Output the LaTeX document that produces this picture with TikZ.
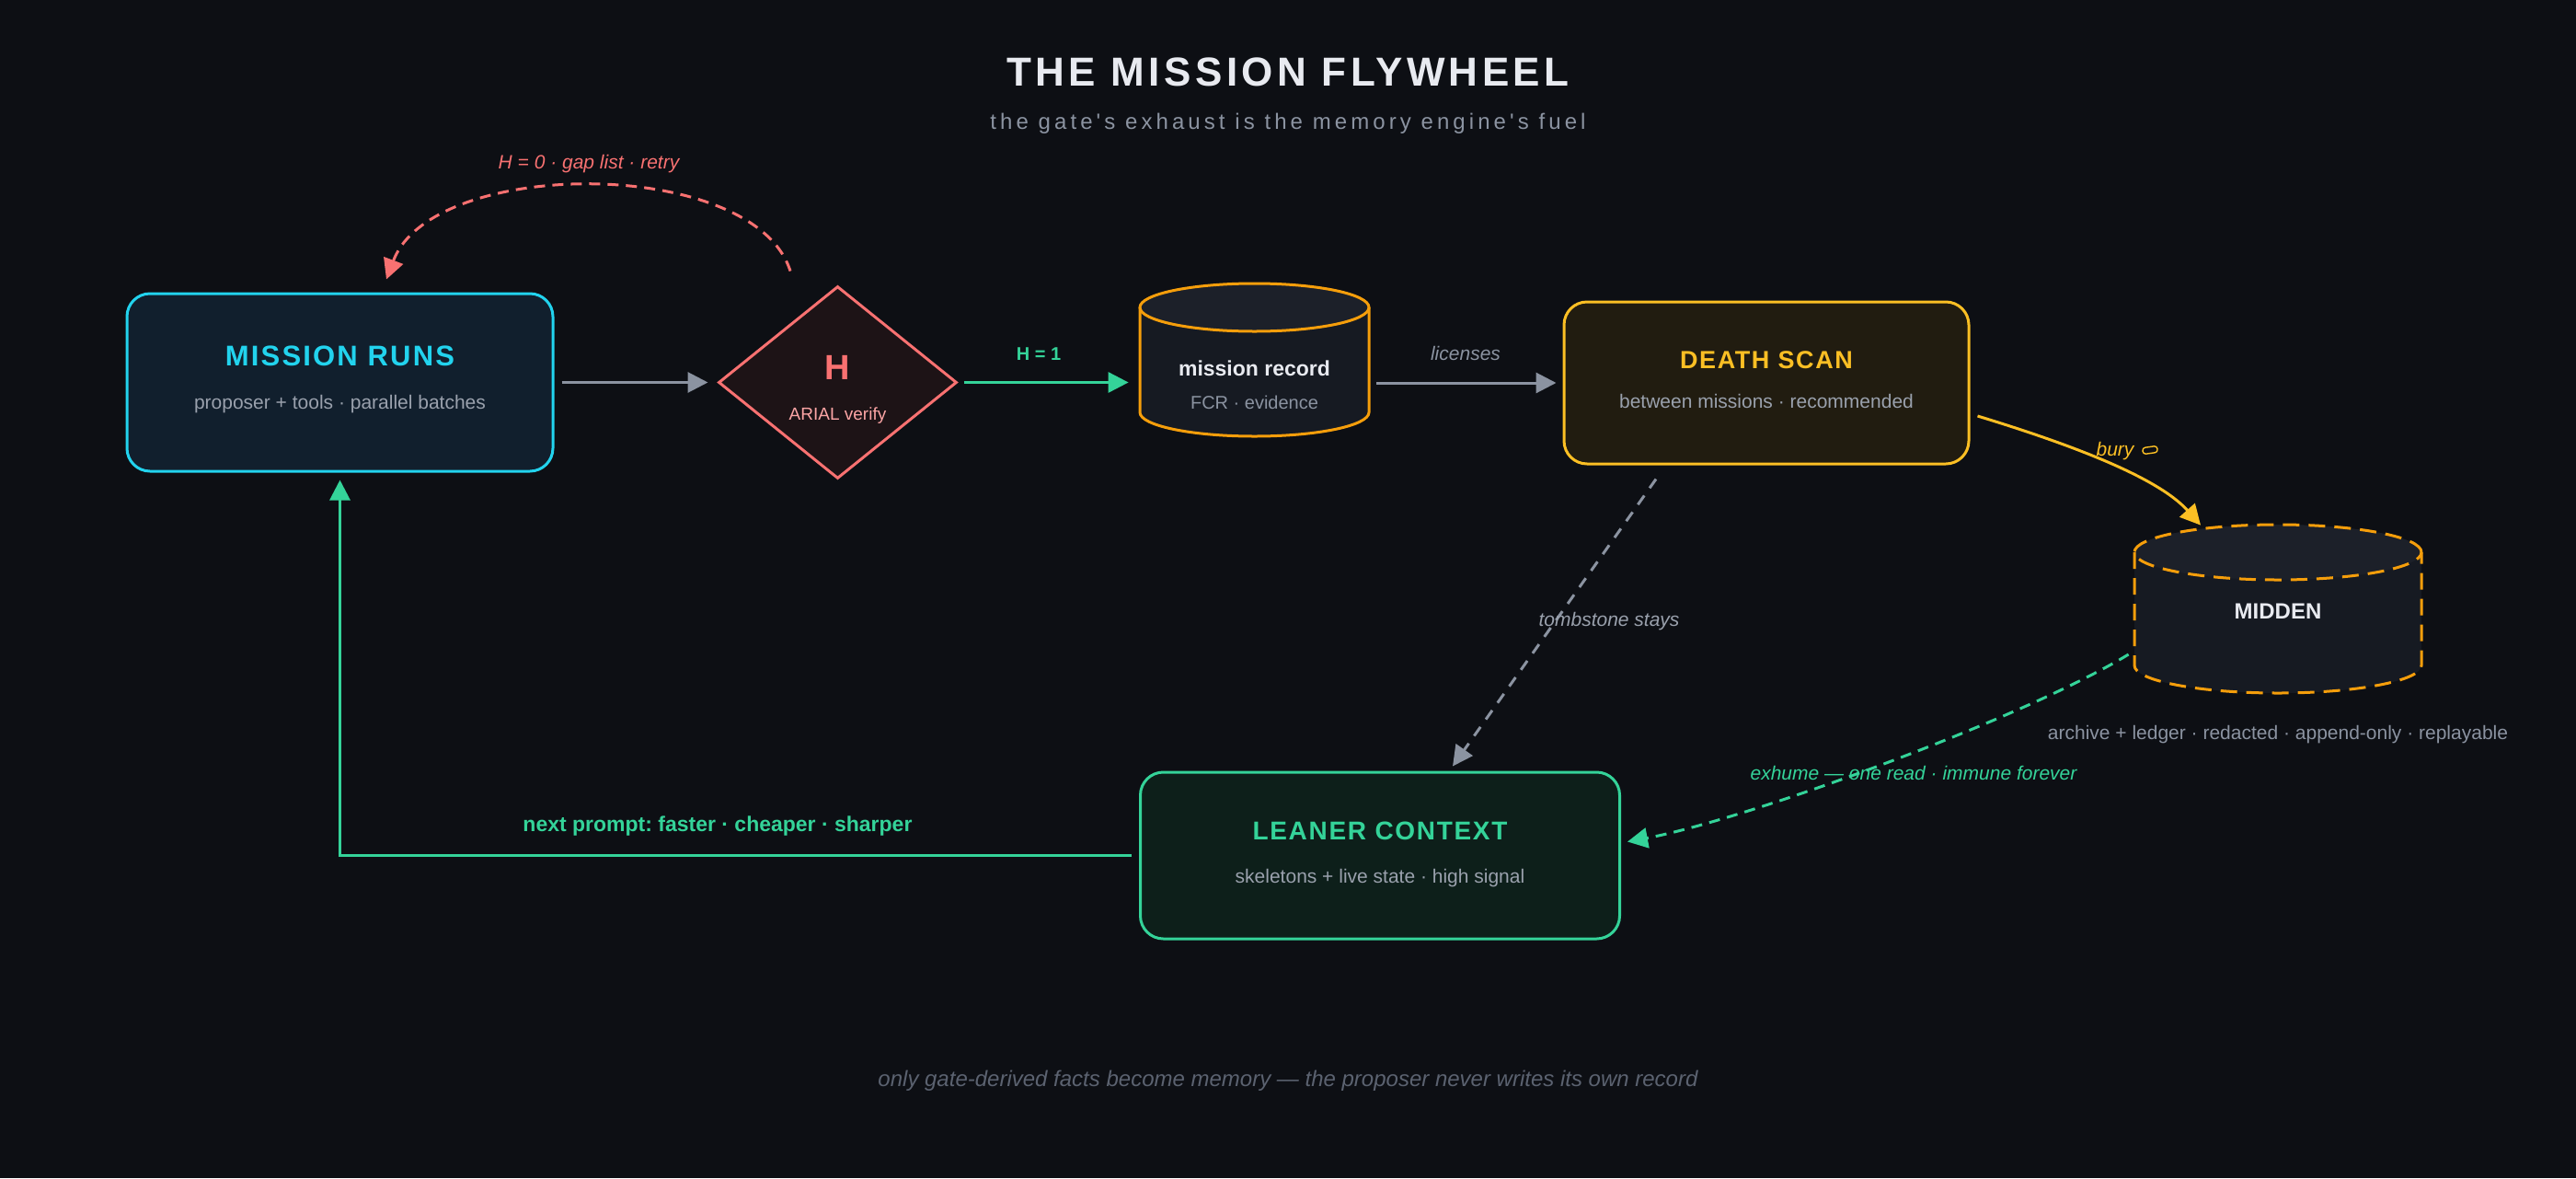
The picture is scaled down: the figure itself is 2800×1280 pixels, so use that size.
\documentclass[tikz,border=0pt]{standalone}
\usepackage{fontspec}
\setmainfont{Liberation Sans}
\newfontfamily\titlef[LetterSpace=10]{Liberation Sans}
\newfontfamily\subf[LetterSpace=17]{Liberation Sans}
\newfontfamily\mrf[LetterSpace=7]{Liberation Sans}
\newfontfamily\boxf[LetterSpace=6]{Liberation Sans}
\usetikzlibrary{arrows.meta,shapes.geometric,calc}
\definecolor{bg}{HTML}{0D0F14}
\definecolor{titlec}{HTML}{E8EAF0}
\definecolor{subc}{HTML}{8B93A1}
\definecolor{grayt}{HTML}{9AA1AD}
\definecolor{graya}{HTML}{8B93A1}
\definecolor{footc}{HTML}{5B6270}
\definecolor{cyanc}{HTML}{22D3EE}
\definecolor{runsfill}{HTML}{111F2D}
\definecolor{redc}{HTML}{F87171}
\definecolor{pinkc}{HTML}{FCA5A5}
\definecolor{hfill}{HTML}{1D1316}
\definecolor{greenc}{HTML}{34D399}
\definecolor{leanfill}{HTML}{0D1F1A}
\definecolor{yellowc}{HTML}{FBBF24}
\definecolor{deathfill}{HTML}{211C10}
\definecolor{orangec}{HTML}{F59E0B}
\definecolor{cylbody}{HTML}{161A22}
\definecolor{cyltop}{HTML}{1C2029}
\tikzset{
  box/.style={draw, rounded corners=12.5pt, line width=1.5pt, inner sep=0pt},
  arr/.style={-{Triangle[length=11pt,width=11pt]}, line width=1.5pt},
  txt/.style={inner sep=0pt, anchor=base},
  dashline/.style={dash pattern=on 6pt off 4pt},
  cylline/.style={draw=orangec, line width=1.5pt},
}
\frenchspacing
\begin{document}
\begin{tikzpicture}[x=0.5pt,y=-0.5pt]
\fill[bg] (0,0) rectangle (2800,1280);
\useasboundingbox (0,0) rectangle (2800,1280);

% title
\node[txt, text=titlec, font=\titlef\bfseries\fontsize{22}{26}\selectfont] (title) at (1400,93) {THE MISSION FLYWHEEL};
\node[txt, text=subc, font=\subf\fontsize{12}{14}\selectfont] (subtitle) at (1400,140) {the gate's exhaust is the memory engine's fuel};

% mission runs
\node[box, draw=cyanc, fill=runsfill, minimum width=231.5pt, minimum height=96.5pt] (runs) at (369.5,415.5) {};
\node[txt, text=cyanc, font=\mrf\bfseries\fontsize{15.5}{18}\selectfont] (runsT) at (369.5,397) {MISSION RUNS};
\node[txt, text=grayt, font=\fontsize{10.5}{12}\selectfont] (runsS) at (369.5,444) {proposer + tools · parallel batches};

% H diamond
\node[diamond, draw=redc, fill=hfill, line width=1.5pt, minimum width=129.5pt, minimum height=104.5pt, inner sep=0pt] (H) at (910.5,415.5) {};
\node[txt, text=redc, font=\bfseries\fontsize{19}{22}\selectfont] (HT) at (910.5,412) {H};
\node[txt, text=pinkc, font=\fontsize{9.5}{11}\selectfont] (HS) at (910.5,456) {ARIAL verify};

% mission record cylinder
\fill[cylbody] (1239,334) -- (1239,448) arc[start angle=180,end angle=360,x radius=62.25pt,y radius=13pt] -- (1488,334) -- cycle;
\fill[cyltop] (1363.5,334) ellipse[x radius=62.25pt,y radius=13pt];
\draw[cylline] (1239,334) -- (1239,448) arc[start angle=180,end angle=360,x radius=62.25pt,y radius=13pt] -- (1488,334);
\draw[cylline] (1363.5,334) ellipse[x radius=62.25pt,y radius=13pt];
\node[inner sep=0pt, minimum width=124.5pt, minimum height=83pt] (rec) at (1363.5,391) {};
\node[txt, text=titlec, font=\bfseries\fontsize{11.5}{13}\selectfont] (recT) at (1363.5,408) {mission record};
\node[txt, text=subc, font=\fontsize{10}{12}\selectfont] (recS) at (1363.5,444) {FCR · evidence};

% death scan
\node[box, draw=yellowc, fill=deathfill, minimum width=220pt, minimum height=88pt] (death) at (1920,416) {};
\node[txt, text=yellowc, font=\boxf\bfseries\fontsize{13.5}{16}\selectfont] (deathT) at (1920,400) {DEATH SCAN};
\node[txt, text=grayt, font=\fontsize{10.5}{12}\selectfont] (deathS) at (1920,443) {between missions · recommended};

% midden cylinder (dashed)
\fill[cylbody] (2320,600) -- (2320,723) arc[start angle=180,end angle=360,x radius=78pt,y radius=15pt] -- (2632,600) -- cycle;
\fill[cyltop] (2476,600) ellipse[x radius=78pt,y radius=15pt];
\draw[cylline, dash pattern=on 9pt off 5pt] (2320,600) -- (2320,723) arc[start angle=180,end angle=360,x radius=78pt,y radius=15pt] -- (2632,600);
\draw[cylline, dash pattern=on 9pt off 5pt] (2476,600) ellipse[x radius=78pt,y radius=15pt];
\node[inner sep=0pt, minimum width=156pt, minimum height=92pt] (midden) at (2476,661) {};
\node[txt, text=titlec, font=\bfseries\fontsize{12}{14}\selectfont] (middenT) at (2476,672) {MIDDEN};
\node[txt, text=subc, font=\fontsize{10.5}{12}\selectfont] (middenS) at (2476,803) {archive + ledger · redacted · append-only · replayable};

% leaner context
\node[box, draw=greenc, fill=leanfill, minimum width=260.5pt, minimum height=90.5pt] (leaner) at (1500,929.5) {};
\node[txt, text=greenc, font=\boxf\bfseries\fontsize{14}{16}\selectfont] (leanerT) at (1500,912) {LEANER CONTEXT};
\node[txt, text=grayt, font=\fontsize{10.5}{12}\selectfont] (leanerS) at (1500,959) {skeletons + live state · high signal};

% connectors
\draw[arr, graya, shorten <=4pt, shorten >=5pt] (runs.east) -- (H.west);
\draw[arr, greenc, shorten <=3pt, shorten >=6pt] (H.east) -- (H.east -| rec.west);
\node[txt, text=greenc, font=\bfseries\fontsize{10}{12}\selectfont] (h1) at (1129,391) {H = 1};
\draw[arr, graya, shorten <=4pt, shorten >=3.5pt] (rec.east |- death.west) -- (death.west);
\node[txt, text=subc, font=\itshape\fontsize{10.5}{12}\selectfont] (lic) at (1593,391) {licenses};

% bury
\coordinate (buryS) at ($(death.east)+(8,36)$);
\coordinate (buryE) at ($(midden.north)+(-84,2)$);
\draw[arr, yellowc] (buryS) .. controls (2248,482) and (2345,518) .. (buryE);
\node[txt, text=yellowc, font=\itshape\fontsize{10.5}{12}\selectfont] (buryL) at (2299,495) {bury};
\draw[yellowc, line width=0.7pt, rounded corners=1.5pt, rotate around={8:(2337,489)}] (2329,485.5) rectangle (2345,492.5);

% tombstone
\coordinate (tombS) at ($(death.south)+(-120,15)$);
\coordinate (tombE) at ($(leaner.north)+(79,-5)$);
\draw[arr, graya, dash pattern=on 6pt off 5pt] (tombS) -- (tombE);
\node[txt, text=grayt, font=\itshape\fontsize{10.5}{12}\selectfont] (tombL) at (1749,680) {tombstone stays};

% exhume
\coordinate (exS) at ($(midden.west)+(-6,50)$);
\coordinate (exE) at ($(leaner.east)+(7,-15)$);
\draw[arr, greenc, dashline] (exS) .. controls (2200,780) and (1900,890) .. (exE);
\node[txt, text=greenc, font=\itshape\fontsize{10.5}{12}\selectfont] (exL) at (2080,847) {exhume — one read · immune forever};

% next prompt
\draw[arr, greenc] ($(leaner.west)+(-8,0)$) -| ($(runs.south)+(0,8)$);
\node[txt, text=greenc, font=\bfseries\fontsize{11.5}{13}\selectfont] (nextL) at (780,903) {next prompt: faster · cheaper · sharper};

% retry
\coordinate (rS) at ($(H.north)+(-51.5,-15)$);
\coordinate (rE) at ($(runs.north)+(50.5,-14)$);
\draw[arr, redc, dashline] (rS) .. controls (820,170) and (470,170) .. (rE);
\node[txt, text=redc, font=\itshape\fontsize{10.5}{12}\selectfont] (retryL) at (640,183) {H = 0 · gap list · retry};

% footer
\node[txt, text=footc, font=\itshape\fontsize{12}{14}\selectfont] (footer) at (1400,1180) {only gate-derived facts become memory — the proposer never writes its own record};
\end{tikzpicture}
\end{document}
